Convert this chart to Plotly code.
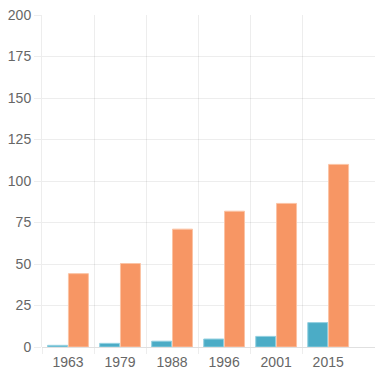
import plotly.graph_objects as go

years = ["1963", "1979", "1988", "1996", "2001", "2015"]
series_blue = [1.0, 2.2, 3.5, 4.8, 6.4, 14.7]
series_orange = [44.2, 50.3, 71.0, 81.8, 86.5, 110.0]
y_ticks = [0, 25, 50, 75, 100, 125, 150, 175, 200]

idx = list(range(len(years)))
boundaries = [i - 0.5 for i in idx]

grid = "rgba(0,0,0,0.07)"
font = dict(family="Liberation Sans", size=14, color="#666666")

fig = go.Figure()
fig.add_trace(go.Bar(
    x=idx, y=series_blue, name="A",
    marker=dict(color="#4bacc6", line=dict(color="#93d0e0", width=1)),
))
fig.add_trace(go.Bar(
    x=idx, y=series_orange, name="B",
    marker=dict(color="#f79664", line=dict(color="#fbc3a4", width=1)),
))

fig.update_layout(
    width=375, height=375,
    margin=dict(l=42, r=0, t=15, b=28),
    paper_bgcolor="white", plot_bgcolor="white",
    showlegend=False,
    barmode="group", bargap=0.2, bargroupgap=0.04,
    font=font,
    xaxis=dict(
        type="linear",
        range=[-0.5, 5.9],
        tickmode="array", tickvals=idx, ticktext=years,
        showgrid=False, zeroline=False, showline=False,
        ticks="outside", ticklen=2, tickcolor="rgba(0,0,0,0)",
        tickfont=font,
        minor=dict(tickmode="array", tickvals=boundaries, showgrid=True,
                   gridcolor=grid, gridwidth=1,
                   ticks="outside", ticklen=6, tickcolor=grid),
    ),
    yaxis=dict(
        range=[0, 200],
        tickmode="array", tickvals=y_ticks,
        showgrid=True, gridcolor=grid, gridwidth=1,
        zeroline=True, zerolinecolor="rgba(0,0,0,0.12)", zerolinewidth=1,
        showline=True, linecolor=grid, linewidth=1,
        ticks="outside", ticklen=7, tickcolor=grid,
        tickfont=font,
    ),
)

fig.write_html("out.html",
               config={"displayModeBar": False},
               post_script="document.body.style.margin='0';document.body.style.padding='0';")
